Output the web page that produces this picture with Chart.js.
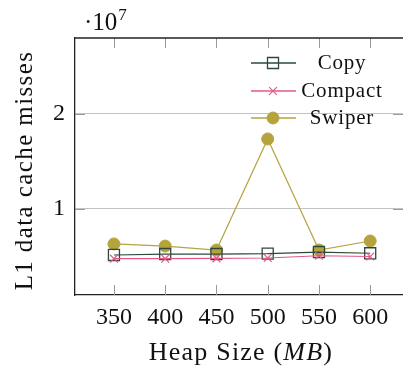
<!DOCTYPE html>
<html><head><meta charset="utf-8">
<script src="https://cdn.jsdelivr.net/npm/chart.js@4/dist/chart.umd.min.js"></script>
<style>html,body{margin:0;padding:0;background:#fff;}#wrap{width:403px;height:372px;}</style>
</head><body><div id="wrap"><canvas id="c" width="403" height="372"></canvas></div>
<script>
const heapSizes = [350, 400, 450, 500, 550, 600];
const copyMisses = [5160000, 5260000, 5260000, 5300000, 5470000, 5340000];
const compactMisses = [4770000, 4770000, 4800000, 4840000, 5080000, 5000000];
const swiperMisses = [6320000, 6100000, 5680000, 17370000, 5680000, 6630000];
const xTicks = [350, 400, 450, 500, 550, 600];
const yTicks = [10000000, 20000000];
const seriesNames = ['Copy', 'Compact', 'Swiper'];

const FONT = '"Liberation Serif", "Times New Roman", serif';
const cCopy = '#2b4a3c', cCompact = '#e2588a', cSwiper = '#b5a43e';

function pts(arr){ return heapSizes.map((x,i)=>({x:x, y:arr[i]})); }

const extras = {
  id:'extras',
  beforeDatasetsDraw(chart){
    const {ctx, chartArea:a, scales:{x,y}} = chart;
    ctx.save();
    ctx.strokeStyle = '#9a9a9a'; ctx.lineWidth = 1;
    ctx.beginPath();
    xTicks.forEach(v=>{
      const px = Math.round(x.getPixelForValue(v))+0.5;
      ctx.moveTo(px, a.bottom); ctx.lineTo(px, a.bottom-10);
      ctx.moveTo(px, a.top); ctx.lineTo(px, a.top+10);
    });
    yTicks.forEach(v=>{
      const py = Math.round(y.getPixelForValue(v))+0.5;
      ctx.moveTo(a.left, py); ctx.lineTo(a.left+10, py);
      ctx.moveTo(a.right, py); ctx.lineTo(a.right-10, py);
    });
    ctx.stroke();
    ctx.restore();
  },
  afterDraw(chart){
    const {ctx, chartArea:a} = chart;
    ctx.save();
    ctx.strokeStyle = '#222'; ctx.lineWidth = 1.3;
    ctx.beginPath(); ctx.moveTo(a.left, a.top); ctx.lineTo(a.right, a.top); ctx.stroke();
    ctx.fillStyle = '#111';
    // y title
    ctx.save();
    ctx.translate(25, (a.top+a.bottom)/2+4);
    ctx.rotate(-Math.PI/2);
    ctx.font = '25px ' + FONT;
    ctx.letterSpacing = '1.4px';
    ctx.textAlign = 'center'; ctx.textBaseline = 'middle';
    ctx.fillText('L1 data cache misses', 0, 0);
    ctx.restore();
    // x title with italic MB
    ctx.textBaseline = 'alphabetic';
    ctx.letterSpacing = '1.2px';
    const parts = [['Heap Size (', 'normal'], ['MB', 'italic'], [')', 'normal']];
    let total = 0;
    parts.forEach(p=>{ ctx.font = p[1]+' 26px '+FONT; total += ctx.measureText(p[0]).width; });
    let xx = 241 - total/2;
    ctx.textAlign = 'left';
    parts.forEach(p=>{ ctx.font = p[1]+' 26px '+FONT; ctx.fillText(p[0], xx, 360); xx += ctx.measureText(p[0]).width; });
    // exponent label
    ctx.letterSpacing = '0px';
    ctx.font = '25px ' + FONT;
    ctx.fillText('\u00B710', 84, 30);
    const w = ctx.measureText('\u00B710').width;
    ctx.font = '17px ' + FONT;
    ctx.fillText('7', 84 + w + 1, 20);
    // legend
    const ds = chart.data.datasets;
    const rows = [63, 91, 118];
    seriesNames.forEach((name, i)=>{
      const d = ds.find(s=>s.label===name);
      const yy = rows[i];
      ctx.strokeStyle = d.borderColor; ctx.lineWidth = 1.3;
      ctx.beginPath(); ctx.moveTo(251, yy); ctx.lineTo(296, yy); ctx.stroke();
      ctx.fillStyle = d.pointBackgroundColor || 'rgba(0,0,0,0)';
      ctx.strokeStyle = d.pointBorderColor;
      ctx.lineWidth = d.pointBorderWidth;
      Chart.helpers.drawPoint(ctx, {pointStyle:d.pointStyle, radius:d.pointRadius, borderWidth:d.pointBorderWidth}, 273, yy);
      ctx.fillStyle = '#111';
      ctx.font = '21px ' + FONT;
      ctx.letterSpacing = '0.8px';
      ctx.textAlign = 'center'; ctx.textBaseline = 'middle';
      ctx.fillText(name, 342, yy);
    });
    ctx.restore();
  }
};

const chart = new Chart(document.getElementById('c'), {
  type:'line',
  data:{datasets:[
    {label:'Compact', data:pts(compactMisses), borderColor:cCompact, backgroundColor:'rgba(0,0,0,0)', pointStyle:'crossRot', pointRadius:5.5, pointBorderColor:cCompact, pointBackgroundColor:'rgba(0,0,0,0)', pointBorderWidth:1.2, borderWidth:1.2, order:0},
    {label:'Copy', data:pts(copyMisses), borderColor:cCopy, backgroundColor:'rgba(0,0,0,0)', pointStyle:'rect', pointRadius:7.8, pointBorderColor:cCopy, pointBackgroundColor:'rgba(0,0,0,0)', pointBorderWidth:1.3, borderWidth:1.2, order:1},
    {label:'Swiper', data:pts(swiperMisses), borderColor:cSwiper, backgroundColor:cSwiper, pointStyle:'circle', pointRadius:6, pointBackgroundColor:cSwiper, pointBorderColor:cSwiper, pointBorderWidth:1, borderWidth:1.2, order:2}
  ]},
  options:{
    responsive:false, animation:false, devicePixelRatio:1,
    layout:{autoPadding:false, padding:{left:0,right:0,top:38,bottom:0}},
    plugins:{legend:{display:false}, tooltip:{enabled:false}},
    elements:{line:{tension:0}},
    scales:{
      x:{type:'linear', min:312, max:632,
        afterBuildTicks(s){ s.ticks = xTicks.map(v=>({value:v})); },
        afterFit(s){ s.height = 77; s.paddingLeft = 0; s.paddingRight = 0; },
        grid:{display:false, drawTicks:false},
        border:{display:true, color:'#222', width:1.3},
        ticks:{padding:8, color:'#111', font:{family:FONT, size:24}, callback:v=>String(v), maxRotation:0, autoSkip:false}
      },
      y:{type:'linear', min:947000, max:28000000,
        afterBuildTicks(s){ s.ticks = yTicks.map(v=>({value:v})); },
        afterFit(s){ s.width = 75; s.paddingTop = 0; s.paddingBottom = 0; },
        grid:{display:true, color:'#c4c4c4', lineWidth:1, drawTicks:false},
        border:{display:true, color:'#222', width:1.3},
        ticks:{padding:10, color:'#111', font:{family:FONT, size:24}, callback:v=>String(v/10000000)}
      }
    }
  },
  plugins:[extras]
});
</script></body></html>
